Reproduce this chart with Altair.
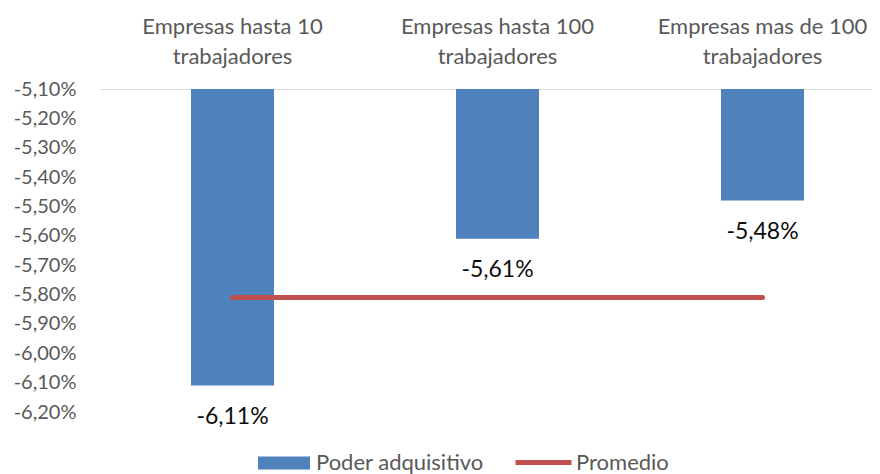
import altair as alt
import pandas as pd

categorias = [
    "Empresas hasta 10 trabajadores",
    "Empresas hasta 100 trabajadores",
    "Empresas mas de 100 trabajadores",
]
poder_adquisitivo = [-6.11, -5.61, -5.48]
promedio = [-5.81, -5.81, -5.81]
y_ticks = [-5.1, -5.2, -5.3, -5.4, -5.5, -5.6, -5.7, -5.8, -5.9, -6.0, -6.1, -6.2]

FONT = "Lato"
FMT = "replace(replace(format({v}, '.2f'), '.', ','), '\u2212', '-') + '%'"

df = pd.DataFrame({
    "categoria": categorias,
    "valor": poder_adquisitivo,
    "promedio": promedio,
    "serie": ["Poder adquisitivo"] * 3,
    "serie2": ["Promedio"] * 3,
})

x_scale = alt.Scale(range=[0, 795], paddingInner=0, paddingOuter=0)
x_axis = alt.Axis(
    orient="top", title=None, ticks=False, labelAngle=0,
    domain=True, domainColor="#d9d9d9", domainWidth=1,
    labelExpr="[replace(datum.label, ' trabajadores', ''), 'trabajadores']",
    labelLineHeight=30, labelFontSize=22, labelColor="#595959",
    labelFont=FONT, labelPadding=51, labelLimit=400,
)

y_scale = alt.Scale(domain=[-6.2, -5.1], nice=False, zero=False)
y_axis = alt.Axis(
    title=None, values=y_ticks, grid=False, ticks=False, domain=False,
    labelExpr=FMT.format(v="datum.value"), labelOverlap=False,
    labelFontSize=20, labelColor="#595959", labelFont=FONT, labelPadding=24,
)


def xe():
    return alt.X("categoria:N", sort=categorias, scale=x_scale, axis=x_axis)


base = alt.Chart(df)

bars = base.mark_bar(size=83).encode(
    x=xe(),
    y=alt.Y("valor:Q", scale=y_scale, axis=y_axis),
    y2=alt.datum(-5.1),
    fill=alt.Fill(
        "serie:N",
        scale=alt.Scale(domain=["Poder adquisitivo"], range=["#4F81BD"]),
        legend=alt.Legend(
            title=None, orient="none", legendX=158, legendY=348, padding=0,
            symbolType="M-1,-0.25H1V0.25H-1Z", symbolSize=2704,
            symbolStrokeWidth=0, labelFontSize=22, labelColor="#595959",
            labelFont=FONT, labelOffset=6, labelLimit=400,
        ),
    ),
)

labels = base.mark_text(dy=31, fontSize=23, font=FONT, color="#0d0d0d").encode(
    x=xe(),
    y=alt.Y("valor:Q", scale=y_scale, axis=y_axis),
    text="etiqueta:N",
).transform_calculate(
    etiqueta=FMT.format(v="datum.valor")
)

line = base.mark_line(strokeWidth=5, strokeCap="round").encode(
    x=xe(),
    y=alt.Y("promedio:Q", scale=y_scale, axis=y_axis),
    stroke=alt.Stroke(
        "serie2:N",
        scale=alt.Scale(domain=["Promedio"], range=["#C0504D"]),
        legend=alt.Legend(
            title=None, orient="none", legendX=413, legendY=343, padding=0,
            symbolType="stroke", symbolSize=3136, symbolStrokeWidth=5,
            labelFontSize=22, labelColor="#595959", labelFont=FONT, labelOffset=2,
            labelLimit=400,
        ),
    ),
)

chart = alt.layer(bars, line, labels).properties(
    width=772,
    height=323,
    background="white",
    autosize=alt.AutoSizeParams(type="none"),
    padding={"left": 92, "top": 81, "right": 0, "bottom": 62},
).configure_view(strokeWidth=0)

chart.save("out.html", embed_options={"renderer": "svg", "actions": False})
